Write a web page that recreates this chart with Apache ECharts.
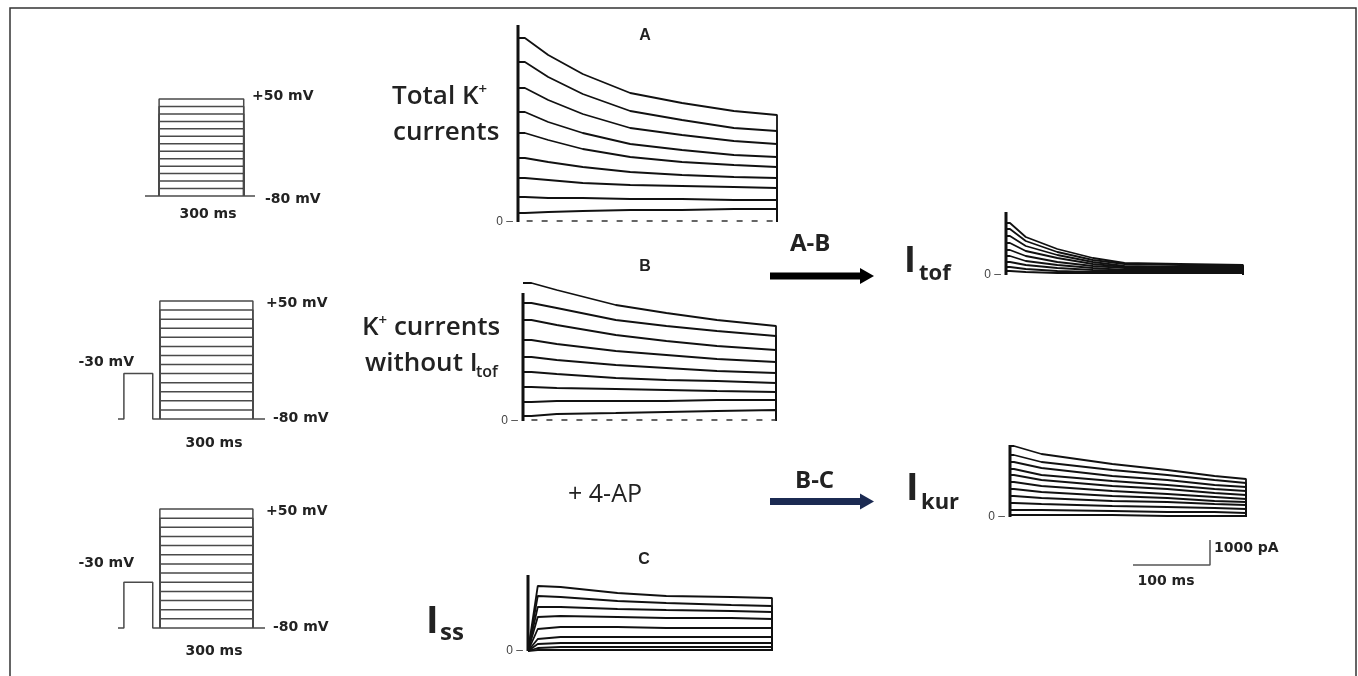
<!DOCTYPE html>
<html>
<head>
<meta charset="utf-8">
<title>K+ currents</title>
<script src="https://cdn.jsdelivr.net/npm/echarts@6/dist/echarts.min.js"></script>
<style>
html, body { margin: 0; padding: 0; background: #fff; }
#chart { width: 1358px; height: 676px; }
</style>
</head>
<body>
<div id="chart"></div>
<script>
// voltage protocol (mV / ms)
const holdingMv = -80
const prepulseMv = -30
const stepLevels = [-70, -60, -50, -40, -30, -20, -10, 0, 10, 20, 30, 40, 50]
// start, step on, step off, end
const protoTimes = [-50, 0, 300, 340]
// start, prepulse on, prepulse off, step on, step off, end
const protoPreTimes = [-135, -116, -23, 0, 300, 339]

// A: total K+ currents (ms / pA)
const timesA = [8, 35, 75, 130, 190, 250, 300]
const currentsA = [
    [7360, 6680, 5920, 5160, 4760, 4440, 4280],
    [6400, 5800, 5120, 4440, 4080, 3760, 3640],
    [5360, 4880, 4320, 3760, 3480, 3240, 3120],
    [4400, 4000, 3560, 3120, 2880, 2680, 2600],
    [3560, 3280, 2920, 2600, 2400, 2280, 2200],
    [2560, 2400, 2200, 2000, 1880, 1800, 1760],
    [1760, 1680, 1560, 1480, 1440, 1400, 1360],
    [1000, 960, 960, 920, 920, 880, 880],
    [360, 400, 440, 480, 480, 520, 520],
]
// B: K+ currents without Itof
const timesB = [10, 40, 110, 170, 230, 300]
const currentsB = [
    [5520, 5240, 4640, 4320, 4040, 3800],
    [4720, 4520, 4040, 3800, 3600, 3400],
    [4040, 3840, 3440, 3200, 3000, 2840],
    [3240, 3080, 2800, 2640, 2480, 2360],
    [2560, 2440, 2240, 2120, 2000, 1920],
    [1960, 1880, 1720, 1640, 1600, 1520],
    [1360, 1320, 1280, 1240, 1200, 1160],
    [760, 800, 800, 800, 840, 840],
    [200, 280, 320, 360, 400, 440],
]
// C: Iss (+ 4-AP)
const timesC = [12, 40, 110, 170, 250, 300]
const currentsC = [
    [2600, 2560, 2320, 2200, 2160, 2120],
    [2200, 2160, 2000, 1920, 1840, 1800],
    [1760, 1760, 1680, 1640, 1600, 1560],
    [1360, 1400, 1360, 1320, 1320, 1280],
    [880, 960, 960, 920, 920, 920],
    [480, 560, 560, 560, 560, 560],
    [280, 320, 320, 320, 320, 320],
    [120, 160, 160, 160, 160, 160],
    [40, 40, 40, 40, 40, 40],
]
// Itof = A - B
const timesTof = [5, 25, 65, 110, 150, 220, 300]
const currentsTof = [
    [2080, 1520, 1040, 680, 480, 440, 400],
    [1840, 1360, 920, 600, 440, 400, 360],
    [1560, 1160, 800, 520, 360, 320, 320],
    [1280, 960, 680, 440, 320, 280, 280],
    [1000, 760, 520, 360, 280, 240, 240],
    [760, 560, 400, 280, 200, 200, 200],
    [520, 400, 280, 200, 160, 160, 160],
    [320, 240, 160, 120, 120, 120, 120],
    [160, 120, 80, 80, 80, 80, 80],
]
// Ikur = B - C
const timesKur = [5, 40, 130, 200, 260, 300]
const currentsKur = [
    [2840, 2520, 2120, 1880, 1640, 1520],
    [2480, 2200, 1880, 1680, 1480, 1360],
    [2200, 1960, 1640, 1480, 1280, 1200],
    [1920, 1680, 1440, 1280, 1120, 1040],
    [1680, 1480, 1240, 1120, 960, 880],
    [1400, 1240, 1040, 920, 800, 720],
    [1120, 1000, 840, 760, 640, 600],
    [840, 760, 640, 600, 520, 480],
    [560, 520, 440, 400, 360, 320],
    [280, 280, 240, 200, 200, 160],
    [80, 80, 80, 40, 40, 40],
]
// capacitive transient height per panel: A, B, C, Itof, Ikur
const transientPeaks = [7880, 5120, 3040, 2520, 2880]
// scale bar
const scaleBarMs = 100
const scaleBarPa = 1000

const chart = echarts.init(document.getElementById('chart'))

const grids = []
const xAxes = []
const yAxes = []
const series = []

const traceColor = '#111'
const protoColor = '#4a4a4a'

// 电流面板 (slowRise: traces climb from zero, otherwise they start at their first level)
const panels = [
    { left: 518, top: 22, width: 259, height: 200, times: timesA, currents: currentsA, dashed: true, slowRise: false },
    { left: 523, top: 271, width: 253, height: 150, times: timesB, currents: currentsB, dashed: true, slowRise: false },
    { left: 528, top: 571, width: 244, height: 80, times: timesC, currents: currentsC, dashed: false, slowRise: true },
    { left: 1006, top: 207, width: 237, height: 68, times: timesTof, currents: currentsTof, dashed: false, slowRise: false },
    { left: 1010, top: 441, width: 236, height: 76, times: timesKur, currents: currentsKur, dashed: false, slowRise: false },
]

panels.forEach((p, idx) => {
    const yMax = p.height * 40
    grids.push({ left: p.left, top: p.top, width: p.width, height: p.height, outerBoundsMode: 'none' })
    xAxes.push({ gridIndex: idx, type: 'value', min: 0, max: 300, show: false })
    yAxes.push({
        gridIndex: idx,
        type: 'value',
        min: 0,
        max: yMax,
        interval: yMax,
        axisLine: { show: false },
        axisTick: { show: false },
        splitLine: { show: false },
        axisLabel: {
            margin: 5,
            fontSize: 12,
            color: '#444',
            fontFamily: 'Liberation Sans',
            formatter: (v) => (v === 0 ? '0 \u2013' : ''),
        },
    })
    p.currents.forEach((vals) => {
        const data = [[0, p.slowRise ? 0 : vals[0]]]
        p.times.forEach((t, i) => data.push([t, vals[i]]))
        data.push([300, 0])
        series.push({
            type: 'line',
            xAxisIndex: idx,
            yAxisIndex: idx,
            data: data,
            symbol: 'none',
            clip: false,
            lineStyle: { color: traceColor, width: 1.8 },
        })
    })
    // transient
    series.push({
        type: 'line',
        xAxisIndex: idx,
        yAxisIndex: idx,
        data: [[0, 0], [0, transientPeaks[idx]]],
        symbol: 'none',
        clip: false,
        lineStyle: { color: traceColor, width: 3 },
    })
    if (p.dashed) {
        series.push({
            type: 'line',
            xAxisIndex: idx,
            yAxisIndex: idx,
            data: [[10, 40], [300, 40]],
            symbol: 'none',
            clip: false,
            lineStyle: { color: '#333', width: 1.5, type: [6, 9] },
        })
    }
})

// 电压协议
const protocols = [
    { left: 145, top: 99, width: 110, height: 97, pre: false },
    { left: 118, top: 301, width: 147, height: 118, pre: true },
    { left: 118, top: 509, width: 147, height: 119, pre: true },
]

protocols.forEach((p) => {
    const idx = grids.length
    const tt = p.pre ? protoPreTimes : protoTimes
    const on = p.pre ? tt[3] : tt[1]
    const off = p.pre ? tt[4] : tt[2]
    grids.push({ left: p.left, top: p.top, width: p.width, height: p.height, outerBoundsMode: 'none' })
    xAxes.push({ gridIndex: idx, type: 'value', min: tt[0], max: tt[tt.length - 1], show: false })
    yAxes.push({ gridIndex: idx, type: 'value', min: holdingMv, max: stepLevels[stepLevels.length - 1], show: false })
    stepLevels.forEach((v) => {
        series.push({
            type: 'line',
            xAxisIndex: idx,
            yAxisIndex: idx,
            data: [[on, holdingMv], [on, v], [off, v], [off, holdingMv]],
            symbol: 'none',
            clip: false,
            lineStyle: { color: protoColor, width: 1.5 },
        })
    })
    const base = p.pre
        ? [[tt[0], holdingMv], [tt[1], holdingMv], [tt[1], prepulseMv], [tt[2], prepulseMv], [tt[2], holdingMv], [tt[5], holdingMv]]
        : [[tt[0], holdingMv], [tt[3], holdingMv]]
    series.push({
        type: 'line',
        xAxisIndex: idx,
        yAxisIndex: idx,
        data: base,
        symbol: 'none',
        clip: false,
        lineStyle: { color: protoColor, width: 1.5 },
    })
})

// 标尺
const sIdx = grids.length
grids.push({ left: 1133, top: 540, width: 77, height: 25, outerBoundsMode: 'none' })
xAxes.push({ gridIndex: sIdx, type: 'value', min: 0, max: scaleBarMs, show: false })
yAxes.push({ gridIndex: sIdx, type: 'value', min: 0, max: scaleBarPa, show: false })
series.push({
    type: 'line',
    xAxisIndex: sIdx,
    yAxisIndex: sIdx,
    data: [[0, 0], [scaleBarMs, 0], [scaleBarMs, scaleBarPa]],
    symbol: 'none',
    clip: false,
    lineStyle: { color: '#555', width: 1.5 },
})

// 文字
const smallFont = 'bold 14px "DejaVu Sans"'
const bigFamily = '"Open Sans"'

const txt = (x, y, text, font, extra) => ({
    type: 'text',
    x: x,
    y: y,
    style: Object.assign({ text: text, font: font, fill: '#222', textAlign: 'left', textVerticalAlign: 'middle' }, extra || {}),
})

const supRich = {
    a: { fontFamily: bigFamily, fontWeight: 600, fontSize: 26, lineHeight: 30 },
    s: { fontFamily: bigFamily, fontWeight: 600, fontSize: 15, lineHeight: 30, verticalAlign: 'top', padding: [0, 0, 8, 0] },
}

const labels = [
    // protocol labels
    txt(252, 96, '+50 mV', smallFont),
    txt(265, 199, '-80 mV', smallFont),
    txt(208, 214, '300 ms', smallFont, { textAlign: 'center' }),
    txt(266, 303, '+50 mV', smallFont),
    txt(273, 418, '-80 mV', smallFont),
    txt(214, 443, '300 ms', smallFont, { textAlign: 'center' }),
    txt(134, 362, '-30 mV', smallFont, { textAlign: 'right' }),
    txt(266, 511, '+50 mV', smallFont),
    txt(273, 627, '-80 mV', smallFont),
    txt(214, 651, '300 ms', smallFont, { textAlign: 'center' }),
    txt(134, 563, '-30 mV', smallFont, { textAlign: 'right' }),
    // panel letters
    txt(645, 36, 'A', 'bold 16px "Liberation Sans"', { textAlign: 'center' }),
    txt(645, 267, 'B', 'bold 16px "Liberation Sans"', { textAlign: 'center' }),
    txt(644, 560, 'C', 'bold 16px "Liberation Sans"', { textAlign: 'center' }),
    // side labels
    { type: 'text', x: 392, y: 97, style: { text: '{a|Total K}{s|+}', fill: '#222', textVerticalAlign: 'middle', rich: supRich } },
    txt(393, 133, 'currents', '600 26px ' + bigFamily),
    { type: 'text', x: 362, y: 328, style: { text: '{a|K}{s|+}{a| currents}', fill: '#222', textVerticalAlign: 'middle', rich: supRich } },
    txt(365, 364, 'without I', '600 26px ' + bigFamily),
    txt(476, 372, 'tof', '600 16px ' + bigFamily),
    txt(568, 495, '+ 4-AP', '25px ' + bigFamily),
    txt(790, 244, 'A-B', 'bold 24px ' + bigFamily),
    txt(795, 481, 'B-C', 'bold 24px ' + bigFamily),
    txt(904, 262, 'I', 'bold 36px ' + bigFamily),
    txt(919, 274, 'tof', 'bold 22px ' + bigFamily),
    txt(906, 489, 'I', 'bold 38px ' + bigFamily),
    txt(921, 503, 'kur', 'bold 22px ' + bigFamily),
    txt(426, 622, 'I', 'bold 38px ' + bigFamily),
    txt(440, 633, 'ss', 'bold 24px ' + bigFamily),
    // scale bar labels
    txt(1214, 548, '1000 pA', 'bold 14px "DejaVu Sans"'),
    txt(1166, 581, '100 ms', 'bold 14px "DejaVu Sans"', { textAlign: 'center' }),
]

const arrows = [
    { type: 'rect', shape: { x: 770, y: 272.5, width: 92, height: 7 }, style: { fill: '#000' } },
    { type: 'polygon', shape: { points: [[860, 268], [874, 276], [860, 284]] }, style: { fill: '#000' } },
    { type: 'rect', shape: { x: 770, y: 498, width: 92, height: 7 }, style: { fill: '#1b2a52' } },
    { type: 'polygon', shape: { points: [[860, 493.5], [874, 501.5], [860, 509.5]] }, style: { fill: '#1b2a52' } },
]

const frame = {
    type: 'rect',
    shape: { x: 10, y: 8, width: 1346, height: 720 },
    style: { fill: 'none', stroke: '#333', lineWidth: 1.5 },
}

const option = {
    animation: false,
    backgroundColor: '#fff',
    grid: grids,
    xAxis: xAxes,
    yAxis: yAxes,
    series: series,
    graphic: [frame].concat(arrows, labels),
}

chart.setOption(option)
</script>
</body>
</html>
